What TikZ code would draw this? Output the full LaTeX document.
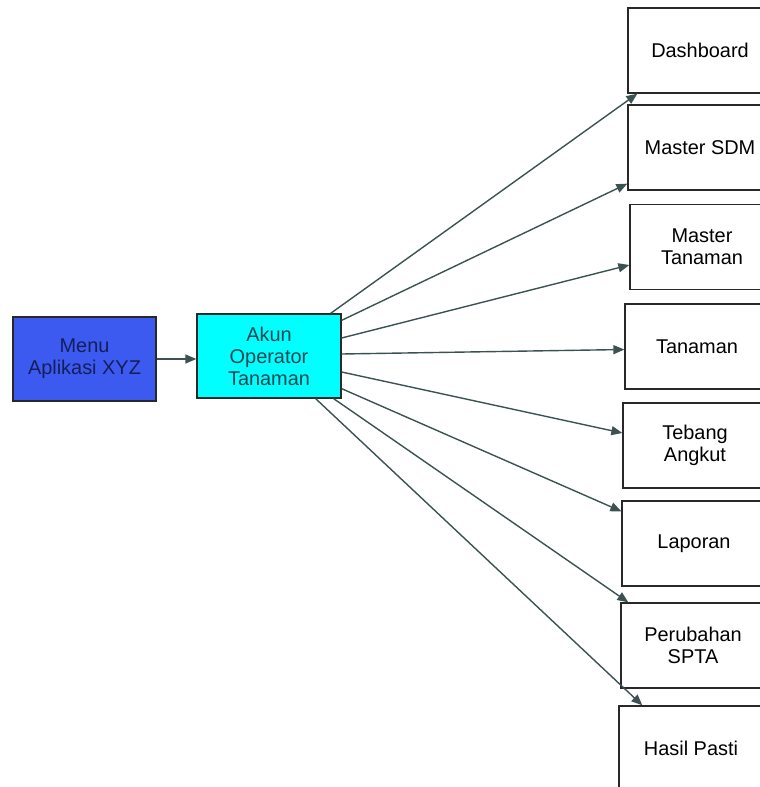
\documentclass[tikz,border=0pt]{standalone}
\usepackage{fontspec}
\setmainfont{Liberation Sans}
\usetikzlibrary{arrows.meta}
\definecolor{menublue}{RGB}{61,90,240}
\definecolor{akuncyan}{RGB}{0,255,255}
\definecolor{menutext}{RGB}{20,30,90}
\definecolor{akuntext}{RGB}{20,70,80}
\definecolor{arrowcol}{RGB}{60,82,82}
\definecolor{boxline}{RGB}{40,40,40}
\begin{document}
\begin{tikzpicture}[x=1bp,y=-1bp,
  box/.style={draw=boxline, line width=1.3bp, minimum width=144bp, minimum height=85bp,
    inner sep=0pt, align=center, font=\fontsize{20}{22}\selectfont},
  arr/.style={draw=arrowcol, line width=1.4bp, -{Triangle[length=11bp,width=9bp]}}]
\useasboundingbox (0,0) rectangle (760,787);
\node[box, fill=menublue, text=menutext, minimum width=143bp, minimum height=84bp] (menu) at (84.5,359) {Menu\\Aplikasi XYZ};
\node[box, fill=akuncyan, text=akuntext, minimum height=84bp] (akun) at (269,356) {Akun\\Operator\\Tanaman};
\node[box] (dash) at (700,50.5) {Dashboard};
\node[box] (sdm) at (700,147.5) {Master SDM};
\node[box] (mtan) at (702,247) {Master\\Tanaman};
\node[box] (tan) at (697,346.5) {Tanaman};
\node[box] (teb) at (695,445.5) {Tebang\\Angkut};
\node[box] (lap) at (694,543.5) {Laporan};
\node[box] (peru) at (693,645.5) {Perubahan\\SPTA};
\node[box] (hasil) at (691,748.5) {Hasil Pasti};
\draw[arr] (menu.east) -- (menu.east -| akun.west);
\draw[arr] ([xshift=-11bp]akun.north east) -- ([xshift=10bp]dash.south west);
\draw[arr] ([yshift=-7bp]akun.north east) -- ([yshift=7bp]sdm.south west);
\draw[arr] ([yshift=18bp]akun.east) -- ([yshift=-18bp]mtan.west);
\draw[arr] ([yshift=2bp]akun.east) -- ([yshift=-3bp]tan.west);
\draw[arr] ([yshift=-16bp]akun.east) -- ([yshift=12.5bp]teb.west);
\draw[arr] ([yshift=10bp]akun.south east) -- ([yshift=-11bp]lap.north west);
\draw[arr] ([xshift=-8bp]akun.south east) -- ([xshift=8bp]peru.north west);
\draw[arr] ([xshift=-26bp]akun.south east) -- ([xshift=24bp]hasil.north west);
\end{tikzpicture}
\end{document}
